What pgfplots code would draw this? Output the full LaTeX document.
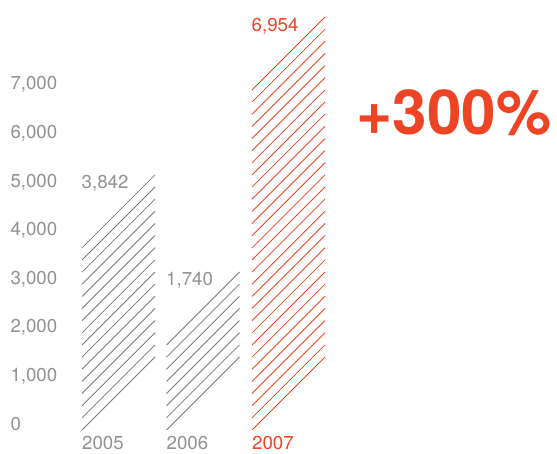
\documentclass[border=0pt]{standalone}
\usepackage{pgfplots}
\pgfplotsset{compat=1.18}
\usepackage{fontspec}
\setmainfont{TeX Gyre Heros}
\definecolor{txtgray}{HTML}{929292}
\definecolor{linegray}{HTML}{7A7A7A}
\definecolor{accent}{HTML}{EE4426}
\newcommand{\lblfont}{\fontsize{18.7}{20}\selectfont}
\begin{document}
\begin{tikzpicture}
\begin{axis}[
  scale only axis, width=557pt, height=454pt,
  xmin=0, xmax=557, ymin=-494, ymax=8853,
  axis line style={draw=none},
  major tick length=0pt,
  ytick={0,1000,2000,3000,4000,5000,6000,7000},
  yticklabels={0,{1,000},{2,000},{3,000},{4,000},{5,000},{6,000},{7,000}},
  yticklabel style={anchor=base west, inner sep=0pt, xshift=10.3pt, font=\lblfont, text=txtgray},
  xtick={82,166.5,252},
  xticklabels={2005,2006,{\textcolor{accent}{2007}}},
  xticklabel style={anchor=base west, inner sep=0pt, yshift=4.5pt, font=\lblfont, text=txtgray},
  clip=false,
]
% 2005 (3,842): hatch lines every 250 from 0
\addplot[linegray, line width=0.85pt, quiver={u=73, v=1503}] table {
x y
82 0
82 250
82 500
82 750
82 1000
82 1250
82 1500
82 1750
82 2000
82 2250
82 2500
82 2750
82 3000
82 3250
82 3500
82 3750
};
% 2006 (1,740)
\addplot[linegray, line width=0.85pt, quiver={u=73, v=1503}] table {
x y
166.5 0
166.5 250
166.5 500
166.5 750
166.5 1000
166.5 1250
166.5 1500
166.5 1750
};
% 2007 (6,954)
\addplot[accent, line width=0.85pt, quiver={u=73, v=1503}] table {
x y
252 0
252 250
252 500
252 750
252 1000
252 1250
252 1500
252 1750
252 2000
252 2250
252 2500
252 2750
252 3000
252 3250
252 3500
252 3750
252 4000
252 4250
252 4500
252 4750
252 5000
252 5250
252 5500
252 5750
252 6000
252 6250
252 6500
252 6750
252 7000
};
\node[anchor=base west, inner sep=0pt, font=\lblfont, text=txtgray] at (axis cs:81.5,4980) {3,842};
\node[anchor=base west, inner sep=0pt, font=\lblfont, text=txtgray] at (axis cs:166,2965) {1,740};
\node[anchor=base west, inner sep=0pt, font=\lblfont, text=accent] at (axis cs:251.5,8200) {6,954};
\node[anchor=base west, inner sep=0pt, font=\bfseries\fontsize{62}{64}\selectfont, text=accent] at (axis cs:356.5,6094) {+300\%};
\end{axis}
\pgfresetboundingbox
\path[use as bounding box] (current axis.south west) rectangle (current axis.north east);
\end{tikzpicture}
\end{document}
